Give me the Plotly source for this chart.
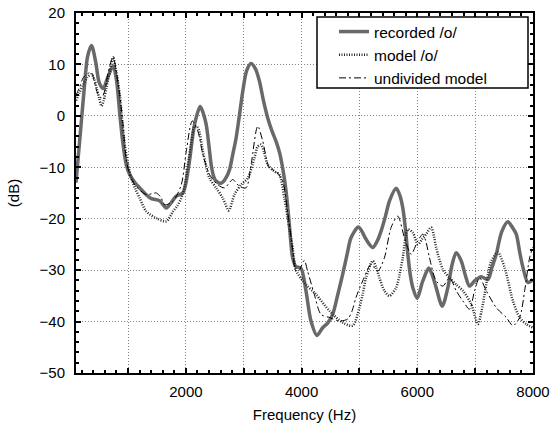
import plotly.graph_objects as go

# ---- data (Hz, dB) ----
rec_f = [100, 170, 240, 300, 368, 440, 500, 569, 650, 741, 800, 860, 914, 970, 1029, 1120, 1201,
         1300, 1402, 1546, 1661, 1750, 1833, 1948, 2010, 2069, 2149, 2247, 2300, 2351, 2400, 2437,
         2480, 2523, 2609, 2680, 2753, 2810, 2868, 2930, 2983, 3050, 3126, 3200, 3270, 3340, 3414,
         3490, 3557, 3620, 3672, 3730, 3787, 3844, 3902, 3988, 4075, 4162, 4265, 4364, 4450, 4537,
         4620, 4710, 4785, 4854, 4981, 5050, 5114, 5229, 5300, 5374, 5450, 5518, 5634, 5700, 5749,
         5800, 5836, 5880, 5922, 5997, 6095, 6199, 6260, 6326, 6430, 6528, 6600, 6672, 6759, 6830,
         6903, 6990, 7105, 7221, 7290, 7365, 7460, 7567, 7650, 7711, 7770, 7827, 7913, 8000]
rec_db = [-13, -4, 5, 11.5, 13.7, 10.5, 6.5, 5.3, 7.5, 9.7, 7, 0, -5.6, -9.5, -11.4, -13, -14.0,
          -15.2, -16.1, -16.5, -17.9, -16.8, -15.6, -15.0, -12.5, -8.2, -1.7, 1.8, 0.5, -1.7, -6, -9.5,
          -11.8, -12.7, -13.1, -12.3, -10.5, -7.5, -4.3, 0.5, 4.8, 8.8, 10.2, 9.2, 6.8, 3, -0.4,
          -3, -4.9, -7.2, -10.1, -14.5, -21, -27.5, -29.3, -29.6, -34.0, -39.9, -42.7, -41.2, -40.3, -38.6,
          -35, -30.8, -27, -23.7, -21.6, -22.6, -24.0, -25.6, -24.5, -22.4, -19.5, -16.6, -14.1, -15.5, -17.9,
          -22.5, -26.9, -31, -33.4, -35.5, -32.1, -29.6, -31, -33.4, -37.0, -33.4, -29, -26.6, -28.2, -31,
          -33.1, -32.1, -31.3, -31.8, -29.5, -26.9, -22.5, -20.6, -21.8, -23.0, -26.5, -29.5, -32.4, -31.8]

mod_f = [100, 160, 224, 300, 368, 420, 454, 500, 540, 580, 626, 690, 741, 790, 856, 900, 943, 1000,
         1057, 1130, 1201, 1316, 1489, 1661, 1776, 1850, 1920, 1980, 2034, 2090, 2149, 2207, 2293,
         2350, 2408, 2523, 2638, 2741, 2839, 2954, 3069, 3184, 3240, 3299, 3350, 3414, 3529, 3615,
         3701, 3787, 3850, 3902, 4075, 4248, 4479, 4710, 4883, 4999, 5060, 5114, 5229, 5290, 5345,
         5430, 5518, 5634, 5690, 5749, 5836, 5922, 6009, 6080, 6153, 6240, 6290, 6326, 6441, 6557,
         6672, 6788, 6932, 7048, 7110, 7163, 7279, 7394, 7509, 7654, 7769, 7884, 8000]
mod_db = [3, 4.5, 6.1, 7.5, 8.1, 7, 5.5, 3.5, 1.9, 3, 5.5, 9, 11.3, 9, 4.2, -1, -5.6, -9.5,
          -12.1, -14.3, -16.0, -18.6, -19.9, -20.5, -18.6, -17.5, -16.0, -13.5, -9.5, -5.5, -2.0, -2.3, -6.9,
          -9.8, -12.1, -14.0, -16.0, -18.4, -15.3, -13.4, -12.1, -8.2, -6, -5.6, -7, -9.5, -10.8, -11.4,
          -16.0, -21.8, -26, -30, -32.8, -34.7, -37.9, -40.2, -40.8, -37.3, -34.5, -31.5, -28.2, -29.5, -31.5,
          -34, -35.0, -33.4, -31, -27.6, -22.1, -22.7, -25.0, -24, -23.0, -21.7, -23.5, -25.6, -29.8, -31.5,
          -32.8, -34.0, -36.6, -40.5, -38, -34.7, -28.2, -26.6, -29.5, -36.0, -39.2, -40.5, -41.2]

und_f = [100, 160, 224, 300, 368, 420, 480, 540, 600, 626, 690, 741, 790, 856, 920, 972, 1030, 1115,
         1316, 1489, 1575, 1632, 1776, 1920, 2006, 2110, 2207, 2293, 2408, 2552, 2667, 2810, 2925,
         3040, 3126, 3241, 3328, 3443, 3557, 3672, 3759, 3845, 3902, 3960, 4046, 4104, 4219, 4335,
         4479, 4652, 4797, 4870, 4941, 5056, 5200, 5316, 5431, 5547, 5662, 5778, 5893, 6009, 6095,
         6150, 6211, 6326, 6441, 6557, 6672, 6788, 6903, 6990, 7076, 7192, 7365, 7538, 7654, 7769,
         7856, 7942, 8000]
und_db = [4, 5.5, 7.4, 8.2, 8.4, 6.5, 4.2, 3.5, 5, 6.8, 10, 11.6, 9, 4.2, -2.5, -8.8, -11.5, -13.4,
          -15.3, -15.0, -16, -17.3, -16.6, -13.4, -6.9, -1.0, -3.0, -7.5, -11.4, -13.4, -14.0, -12.4, -13.7,
          -14.0, -9.5, -2.0, -4.9, -10.1, -10.8, -12.7, -18.6, -26, -30.2, -30, -28.1, -30.2, -34.7, -38.6,
          -39.2, -39.9, -39.5, -38, -35.3, -32.1, -28.9, -30.2, -27.6, -21.7, -19.5, -23.7, -26.9, -24.3, -23.0,
          -24.5, -27.6, -32.1, -33.1, -31.5, -34.0, -36.0, -37.6, -34.0, -31.5, -34.0, -37.3, -39.2, -40.8, -39.2,
          -34.0, -27.6, -25.5]

x_tickvals = [1000, 2000, 3000, 4000, 5000, 6000, 7000, 8000]
x_ticktext = ["", "2000", "", "4000", "", "6000", "", "8000"]
y_tickvals = [-50, -40, -30, -20, -10, 0, 10, 20]
y_ticktext = ["\u221250", "\u221240", "\u221230", "\u221220", "\u221210", "0", "10", "20"]

FONT = "Liberation Sans, Arial, sans-serif"

fig = go.Figure()
fig.add_trace(go.Scatter(x=rec_f, y=rec_db, mode="lines", name="recorded /o/",
                         line=dict(color="rgb(105,105,105)", width=3.5, shape="spline", smoothing=0.8)))
fig.add_trace(go.Scatter(x=mod_f, y=mod_db, mode="lines", name="model /o/",
                         line=dict(color="rgb(40,40,40)", width=2.5, dash="1px,1.5px",
                                   shape="spline", smoothing=0.8)))
fig.add_trace(go.Scatter(x=und_f, y=und_db, mode="lines", name="undivided model",
                         line=dict(color="black", width=1, dash="7px,3px,2px,3px",
                                   shape="spline", smoothing=0.8)))

axis_common = dict(
    showline=True, linecolor="black", linewidth=2, mirror="allticks",
    ticks="inside", ticklen=5, tickwidth=1.5, tickcolor="black",
    showgrid=True, gridcolor="rgb(130,130,130)", gridwidth=1, griddash="1px,2px",
    zeroline=False, automargin=False,
    tickfont=dict(family=FONT, size=15, color="black"),
)

fig.update_xaxes(range=[100, 8000], tickmode="array", tickvals=x_tickvals, ticktext=x_ticktext,
                 minor=dict(ticks="inside", tick0=0, dtick=200, ticklen=3, tickwidth=1.5,
                            tickcolor="black", showgrid=False),
                 title=dict(text="Frequency (Hz)", font=dict(family=FONT, size=15, color="black"),
                            standoff=10),
                 ticklabelstandoff=4,
                 **axis_common)
fig.update_yaxes(range=[-50, 20], tickmode="array", tickvals=y_tickvals, ticktext=y_ticktext,
                 minor=dict(ticks="inside", tick0=0, dtick=2, ticklen=3, tickwidth=1.5,
                            tickcolor="black", showgrid=False),
                 title=dict(text="(dB)", font=dict(family=FONT, size=15, color="black"),
                            standoff=16),
                 ticklabelstandoff=6,
                 **axis_common)

# legend box
L, R, T, B = 76, 533, 13, 373
W, H = R - L, B - T
fig.add_shape(type="rect", xref="paper", yref="paper",
              x0=(317 - L) / W, x1=(528 - L) / W, y0=(B - 88) / H, y1=(B - 17) / H,
              fillcolor="white", line=dict(color="black", width=1.5), layer="above")

fig.update_layout(
    width=551, height=426,
    margin=dict(l=L, r=551 - R, t=T, b=426 - B, autoexpand=False),
    paper_bgcolor="white", plot_bgcolor="white",
    font=dict(family=FONT, size=15, color="black"),
    showlegend=True,
    legend=dict(x=(334 - L) / W, xanchor="left", y=(B - 15) / H, yanchor="top",
                bgcolor="rgba(0,0,0,0)", borderwidth=0, tracegroupgap=0,
                font=dict(family=FONT, size=15.5, color="black")),
)

fig.write_html("out.html", config={"displayModeBar": False},
               post_script="document.body.style.margin='0';document.body.style.overflow='hidden';")
